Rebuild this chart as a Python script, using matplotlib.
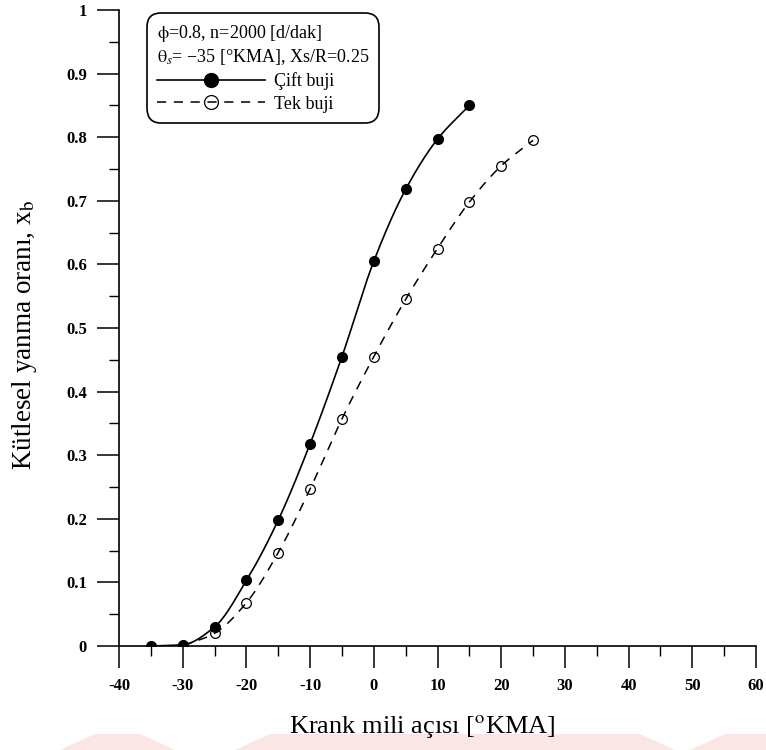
import numpy as np
import matplotlib
matplotlib.use("Agg")
import matplotlib.pyplot as plt
from matplotlib.lines import Line2D
from matplotlib.patches import Polygon

plt.rcParams['font.family'] = ['Liberation Serif', 'DejaVu Serif']
plt.rcParams['mathtext.fontset'] = 'stix'

# Crank angle [deg CA] and mass fraction burned
theta_cift = [-35, -30, -25, -20, -15, -10, -5, 0, 5, 10, 15]
xb_cift = [0.0, 0.002, 0.03, 0.103, 0.198, 0.318, 0.455, 0.605, 0.718, 0.797, 0.85]

theta_tek = [-30, -25, -20, -15, -10, -5, 0, 5, 10, 15, 20, 25]
xb_tek = [0.0, 0.02, 0.068, 0.147, 0.247, 0.357, 0.455, 0.545, 0.625, 0.698, 0.755, 0.795]

x_ticks = [-40, -30, -20, -10, 0, 10, 20, 30, 40, 50, 60]
y_ticks = [0, 0.1, 0.2, 0.3, 0.4, 0.5, 0.6, 0.7, 0.8, 0.9, 1]
y_tick_labels = ["0", "0.1", "0.2", "0.3", "0.4", "0.5", "0.6", "0.7", "0.8", "0.9", "1"]


def pchip(x, y, n=400):
    """Shape-preserving cubic curve through the given points."""
    x = np.asarray(x, float)
    y = np.asarray(y, float)
    h = np.diff(x)
    d = np.diff(y) / h
    m = np.zeros_like(y)
    for k in range(1, len(x) - 1):
        if d[k - 1] * d[k] > 0:
            w1 = 2 * h[k] + h[k - 1]
            w2 = h[k] + 2 * h[k - 1]
            m[k] = (w1 + w2) / (w1 / d[k - 1] + w2 / d[k])
    m[0] = d[0]
    m[-1] = d[-1]
    xs = np.linspace(x[0], x[-1], n)
    idx = np.clip(np.searchsorted(x, xs) - 1, 0, len(x) - 2)
    t = (xs - x[idx]) / h[idx]
    h00 = 2 * t**3 - 3 * t**2 + 1
    h10 = t**3 - 2 * t**2 + t
    h01 = -2 * t**3 + 3 * t**2
    h11 = t**3 - t**2
    ys = (h00 * y[idx] + h10 * h[idx] * m[idx]
          + h01 * y[idx + 1] + h11 * h[idx] * m[idx + 1])
    return xs, ys


fig = plt.figure(figsize=(7.66, 7.5), dpi=100)
ax = fig.add_axes([119 / 766, 1 - 646 / 750, (756 - 119) / 766, (646 - 10) / 750])
ax.patch.set_alpha(0)

# Faint background band along the bottom edge
band = '#fbe6e6'
for pts in ([(60, 750), (95, 734), (140, 734), (175, 750)],
            [(235, 750), (270, 734), (640, 734), (675, 750)],
            [(690, 750), (725, 734), (766, 734), (766, 750)]):
    fig.patches.append(Polygon([(px / 766, 1 - py / 750) for px, py in pts],
                               closed=True, transform=fig.transFigure,
                               facecolor=band, edgecolor='none', zorder=-1))

xs, ys = pchip(theta_tek, xb_tek)
ax.plot(xs, ys, color='black', lw=1.1, dashes=(6, 5), zorder=2)
ax.plot(theta_tek, xb_tek, linestyle='none', marker='o', markersize=7,
        markerfacecolor='none', markeredgecolor='black', markeredgewidth=0.9, zorder=3)

xs, ys = pchip(theta_cift, xb_cift)
ax.plot(xs, ys, color='black', lw=1.2, zorder=4)
ax.plot(theta_cift, xb_cift, linestyle='none', marker='o', markersize=7,
        color='black', zorder=5)

ax.set_xlim(-40, 60)
ax.set_ylim(0, 1)
ax.set_xticks(x_ticks)
ax.set_xticklabels([str(v) for v in x_ticks])
ax.set_yticks(y_ticks)
ax.set_yticklabels(y_tick_labels)
ax.set_xticks(np.arange(-35, 60, 10), minor=True)
ax.set_yticks(np.arange(0.05, 1.0, 0.1), minor=True)

for s in ('top', 'right'):
    ax.spines[s].set_visible(False)
for s in ('left', 'bottom'):
    ax.spines[s].set_linewidth(1.2)

ax.tick_params(which='major', direction='out', length=16, width=1.1,
               labelsize=12, pad=7)
ax.tick_params(which='minor', direction='out', length=7.5, width=1.0)
for lab in ax.get_xticklabels() + ax.get_yticklabels():
    lab.set_fontweight('bold')

ax.set_xlabel(r"Krank mili açısı [$^{\mathrm{o}}$KMA]", fontsize=19)
ax.xaxis.set_label_coords(0.476, -0.105)
ax.set_ylabel(r"Kütlesel yanma oranı, x$_{\mathrm{b}}$", fontsize=19.5)
ax.yaxis.set_label_coords(-0.125, 0.49)

handles = [
    Line2D([], [], color='black', lw=1.2, marker='o', markersize=10),
    Line2D([], [], color='black', lw=1.1, dashes=(6, 5), marker='o', markersize=10,
           markerfacecolor='none', markeredgewidth=0.9),
]
leg = ax.legend(handles, ["Çift buji", "Tek buji"],
                title="$\\mathrm{\\phi}$=0.8, n=2000 [d/dak]\n"
                      "$\\mathrm{\\theta}_{s}$= −35 [°KMA], Xs/R=0.25",
                loc='upper left', bbox_to_anchor=(147 / 766, 1 - 13 / 750),
                bbox_transform=fig.transFigure, fontsize=13, title_fontsize=13,
                frameon=True, fancybox=True, edgecolor='black', framealpha=1,
                handlelength=6.0, handletextpad=0.5, borderpad=0.55,
                borderaxespad=0.0, labelspacing=0.3, alignment='left')
leg.get_frame().set_linewidth(1.2)
leg.get_frame().set_boxstyle('round', pad=0.0, rounding_size=0.8)

fig.savefig("out.png", dpi=100)
